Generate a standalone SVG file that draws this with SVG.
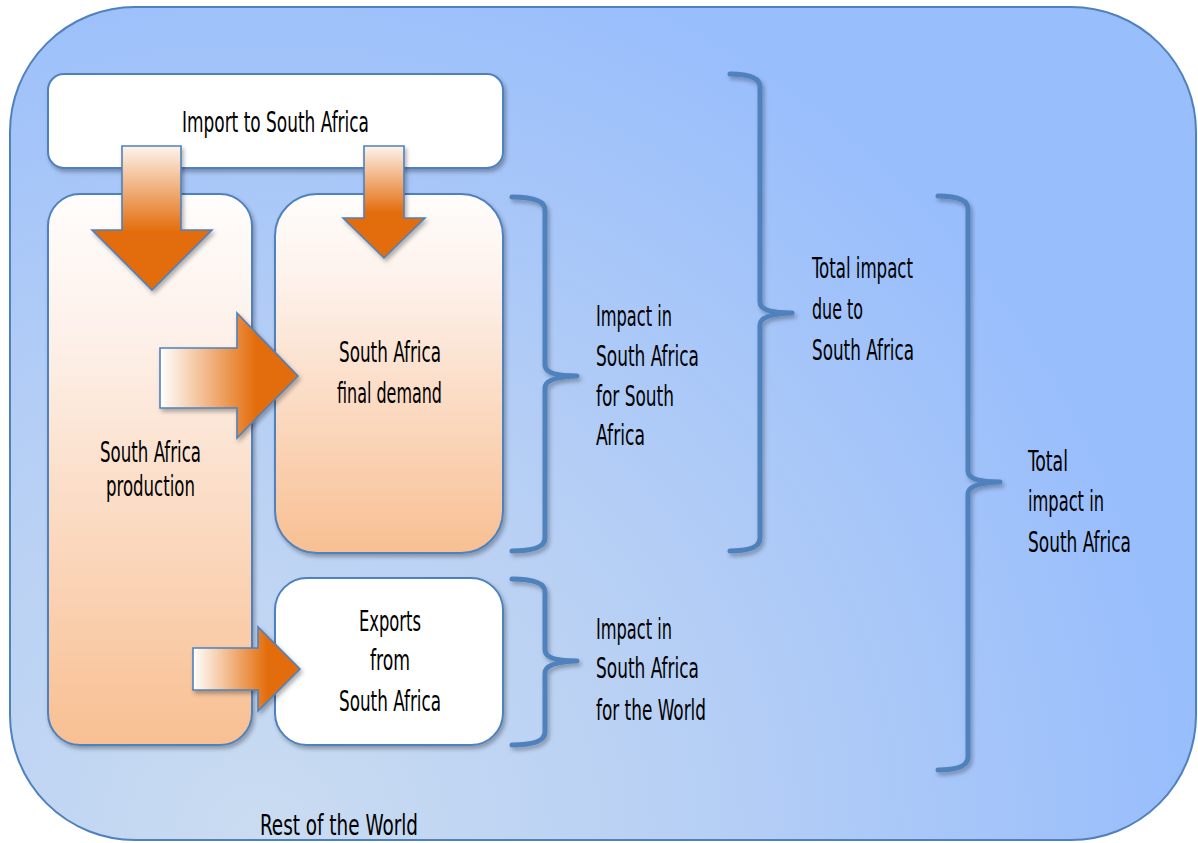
<svg xmlns="http://www.w3.org/2000/svg" width="1198" height="843" viewBox="0 0 1198 843">
<defs>
<radialGradient id="bg" gradientUnits="userSpaceOnUse" cx="260" cy="840" r="920">
<stop offset="0" stop-color="#cadcf1"/>
<stop offset="0.45" stop-color="#b8d0f4"/>
<stop offset="1" stop-color="#99befc"/>
</radialGradient>
<linearGradient id="peachV" x1="0" y1="0" x2="0" y2="1">
<stop offset="0" stop-color="#fffdfc"/>
<stop offset="0.25" stop-color="#fdf1ea"/>
<stop offset="1" stop-color="#f8bf92"/>
</linearGradient>
<linearGradient id="arrowDown" x1="0" y1="0" x2="0" y2="1">
<stop offset="0" stop-color="#fdf3ec"/>
<stop offset="0.6" stop-color="#e36c0a"/>
<stop offset="1" stop-color="#e36c0a"/>
</linearGradient>
<linearGradient id="arrowRight" x1="0" y1="0" x2="1" y2="0">
<stop offset="0" stop-color="#ffffff"/>
<stop offset="0.7" stop-color="#e36c0a"/>
<stop offset="1" stop-color="#e36c0a"/>
</linearGradient>
<filter id="sh" x="-10%" y="-10%" width="130%" height="130%">
<feDropShadow dx="2" dy="3" stdDeviation="2" flood-color="#000" flood-opacity="0.3"/>
</filter>
<style>
.box{stroke:#4f81bd;stroke-width:2;filter:url(#sh)}
.arrow{stroke:#4f81bd;stroke-width:1.6;filter:url(#sh)}
.brace{fill:none;stroke:#4f81bd;stroke-width:5;stroke-linecap:round;stroke-linejoin:round;filter:url(#sh)}
text{font-family:"DejaVu Sans Condensed","DejaVu Sans","Liberation Sans",sans-serif;font-stretch:condensed;font-size:28px;fill:#000}
</style>
</defs>

<g id="rest-of-world">
<rect x="10" y="7" width="1186" height="833" rx="125" ry="125" fill="url(#bg)" stroke="#4f81bd" stroke-width="2"/>
<text x="260" y="835" textLength="158" lengthAdjust="spacingAndGlyphs">Rest of the World</text>
</g>

<g id="import">
<rect class="box" x="48" y="74" width="455" height="94" rx="16" fill="#ffffff"/>
<text x="182" y="132" textLength="187" lengthAdjust="spacingAndGlyphs">Import to South Africa</text>
</g>

<g id="production">
<rect class="box" x="48" y="194" width="204" height="551" rx="32" fill="url(#peachV)"/>
<text x="100" y="462" textLength="101" lengthAdjust="spacingAndGlyphs">South Africa</text>
<text x="106" y="496" textLength="89" lengthAdjust="spacingAndGlyphs">production</text>
</g>

<g id="final-demand">
<rect class="box" x="275" y="194" width="228" height="359" rx="42" fill="url(#peachV)"/>
<text x="339" y="362" textLength="102" lengthAdjust="spacingAndGlyphs">South Africa</text>
<text x="337" y="403" textLength="105" lengthAdjust="spacingAndGlyphs">final demand</text>
</g>

<g id="exports">
<rect class="box" x="275" y="578" width="228" height="167" rx="32" fill="#ffffff"/>
<text x="359" y="631" textLength="62" lengthAdjust="spacingAndGlyphs">Exports</text>
<text x="370" y="670" textLength="40" lengthAdjust="spacingAndGlyphs">from</text>
<text x="339" y="711" textLength="102" lengthAdjust="spacingAndGlyphs">South Africa</text>
</g>

<g id="connectors">
<path class="arrow" d="M122,146 H181 V230 H212 L152,290 L92,230 H122 Z" fill="url(#arrowDown)"/>
<path class="arrow" d="M364,146 H404 V218 H425 L384,258 L343,218 H364 Z" fill="url(#arrowDown)"/>
<path class="arrow" d="M160,348 H237 V313 L298,376 L237,438 V408 H160 Z" fill="url(#arrowRight)"/>
<path class="arrow" d="M193,648 H258 V627 L300,669 L258,711 V690 H193 Z" fill="url(#arrowRight)"/>

<path class="brace" d="M512,197 Q545,197 545,210 V365 Q545,376 577,376 Q545,377 545,388 V538 Q545,551 512,551"/>
<path class="brace" d="M512,579 Q545,579 545,592 V650 Q545,661 577,661 Q545,662 545,673 V732 Q545,745 512,745"/>
<path class="brace" d="M730,74 Q760,74 760,87 V302 Q760,313 792,313 Q760,314 760,325 V538 Q760,551 730,551"/>
<path class="brace" d="M938,196 Q968,196 968,209 V471 Q968,482 1000,482 Q968,483 968,494 V757 Q968,770 938,770"/>
</g>

<g id="labels">
<text x="596" y="326" textLength="76" lengthAdjust="spacingAndGlyphs">Impact in</text>
<text x="596" y="366" textLength="103" lengthAdjust="spacingAndGlyphs">South Africa</text>
<text x="596" y="406" textLength="78" lengthAdjust="spacingAndGlyphs">for South</text>
<text x="596" y="445" textLength="49" lengthAdjust="spacingAndGlyphs">Africa</text>

<text x="812" y="278" textLength="101" lengthAdjust="spacingAndGlyphs">Total impact</text>
<text x="812" y="319" textLength="51" lengthAdjust="spacingAndGlyphs">due to</text>
<text x="812" y="360" textLength="102" lengthAdjust="spacingAndGlyphs">South Africa</text>

<text x="1028" y="471" textLength="40" lengthAdjust="spacingAndGlyphs">Total</text>
<text x="1028" y="511" textLength="76" lengthAdjust="spacingAndGlyphs">impact in</text>
<text x="1028" y="552" textLength="103" lengthAdjust="spacingAndGlyphs">South Africa</text>

<text x="596" y="639" textLength="76" lengthAdjust="spacingAndGlyphs">Impact in</text>
<text x="596" y="678" textLength="103" lengthAdjust="spacingAndGlyphs">South Africa</text>
<text x="596" y="720" textLength="110" lengthAdjust="spacingAndGlyphs">for the World</text>
</g>
</svg>
